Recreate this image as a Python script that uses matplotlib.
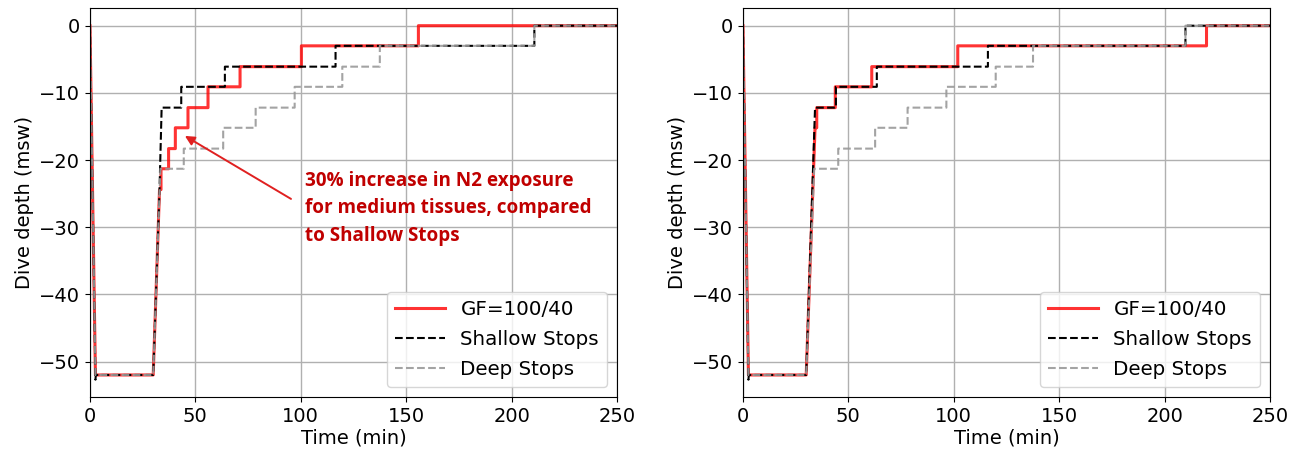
import matplotlib
matplotlib.use("Agg")
import matplotlib.pyplot as plt

# ---- data: left panel ----
gf_t_left = [0, 2.6, 30, 33, 33.7, 33.7, 37.3, 37.3, 40.5, 40.5, 46.5, 46.5, 56, 56, 71.2, 71.2, 100.3, 100.3, 155.8, 155.8, 250]
gf_d_left = [0, -52, -52, -24.4, -24.4, -21.3, -21.3, -18.3, -18.3, -15.2, -15.2, -12.2, -12.2, -9.1, -9.1, -6.1, -6.1, -3.0, -3.0, 0, 0]

shallow_t_left = [0, 2.6, 2.8, 30, 33, 34, 43.3, 43.3, 64, 64, 116.5, 116.5, 210.8, 210.8, 250]
shallow_d_left = [0, -52.7, -52, -52, -24.4, -12.2, -12.2, -9.1, -9.1, -6.1, -6.1, -3.0, -3.0, 0, 0]

deep_t_left = [0, 2.6, 30, 33.4, 44.5, 44.5, 63.2, 63.2, 78.6, 78.6, 97.1, 97.1, 119.7, 119.7, 137.5, 137.5, 210.8, 210.8, 250]
deep_d_left = [0, -52, -52, -21.3, -21.3, -18.3, -18.3, -15.2, -15.2, -12.2, -12.2, -9.1, -9.1, -6.1, -6.1, -3.0, -3.0, 0, 0]

# ---- data: right panel ----
gf_t_right = [0, 2.6, 30, 34.2, 35, 35, 43.8, 43.8, 61.1, 61.1, 101.9, 101.9, 219.9, 219.9, 250]
gf_d_right = [0, -52, -52, -15.2, -15.2, -12.2, -12.2, -9.1, -9.1, -6.1, -6.1, -3.0, -3.0, 0, 0]

shallow_t_right = [0, 2.6, 2.8, 30, 34.2, 44.1, 44.1, 63.5, 63.5, 116.2, 116.2, 209.9, 209.9, 250]
shallow_d_right = [0, -52.7, -52, -52, -12.2, -12.2, -9.1, -9.1, -6.1, -6.1, -3.0, -3.0, 0, 0]

deep_t_right = [0, 2.6, 30, 33.8, 45.2, 45.2, 62.7, 62.7, 78.1, 78.1, 96.5, 96.5, 119.9, 119.9, 137.6, 137.6, 209.9, 209.9, 250]
deep_d_right = [0, -52, -52, -21.3, -21.3, -18.3, -18.3, -15.2, -15.2, -12.2, -12.2, -9.1, -9.1, -6.1, -6.1, -3.0, -3.0, 0, 0]

labels = ["GF=100/40", "Shallow Stops", "Deep Stops"]
annotation = "30% increase in N2 exposure\nfor medium tissues, compared\nto Shallow Stops"
xticks = [0, 50, 100, 150, 200, 250]
yticks = [0, -10, -20, -30, -40, -50]

plt.rcParams['font.family'] = ['DejaVu Sans']
fig = plt.figure(figsize=(13, 4.57), dpi=100)
ax1 = fig.add_axes([0.0692, 0.131, 0.4054, 0.851])
ax2 = fig.add_axes([0.5715, 0.131, 0.4054, 0.851])

panels = [
    (ax1, (gf_t_left, gf_d_left), (shallow_t_left, shallow_d_left), (deep_t_left, deep_d_left)),
    (ax2, (gf_t_right, gf_d_right), (shallow_t_right, shallow_d_right), (deep_t_right, deep_d_right)),
]

for ax, gf, sh, dp in panels:
    ax.plot(gf[0], gf[1], color='red', alpha=0.8, lw=2.2, label=labels[0])
    ax.plot(sh[0], sh[1], color='black', ls='--', lw=1.5, label=labels[1])
    ax.plot(dp[0], dp[1], color='#999999', alpha=0.9, ls='--', lw=1.5, label=labels[2])
    ax.set_xlim(0, 250)
    ax.set_ylim(-55.3, 2.6)
    ax.set_xticks(xticks)
    ax.set_yticks(yticks)
    ax.grid(True, color='#b0b0b0', lw=1.0)
    ax.tick_params(labelsize=14)
    ax.set_xlabel("Time (min)", fontsize=14, labelpad=2)
    ax.set_ylabel("Dive depth (msw)", fontsize=14)
    ax.legend(loc='lower right', fontsize=14.3, handlelength=2.5, labelspacing=0.55)

ax1.annotate('', xy=(43.9, -16.2), xytext=(96.5, -26.0),
             arrowprops=dict(arrowstyle='-|>', color='#e02020', lw=1.4, mutation_scale=14))
ax1.text(102.2, -21.6, annotation, fontsize=13.6, fontweight='bold', color='#c00000',
         family=['Open Sans', 'DejaVu Sans'], va='top', ha='left', linespacing=1.5)

fig.savefig("out.png", dpi=100)
